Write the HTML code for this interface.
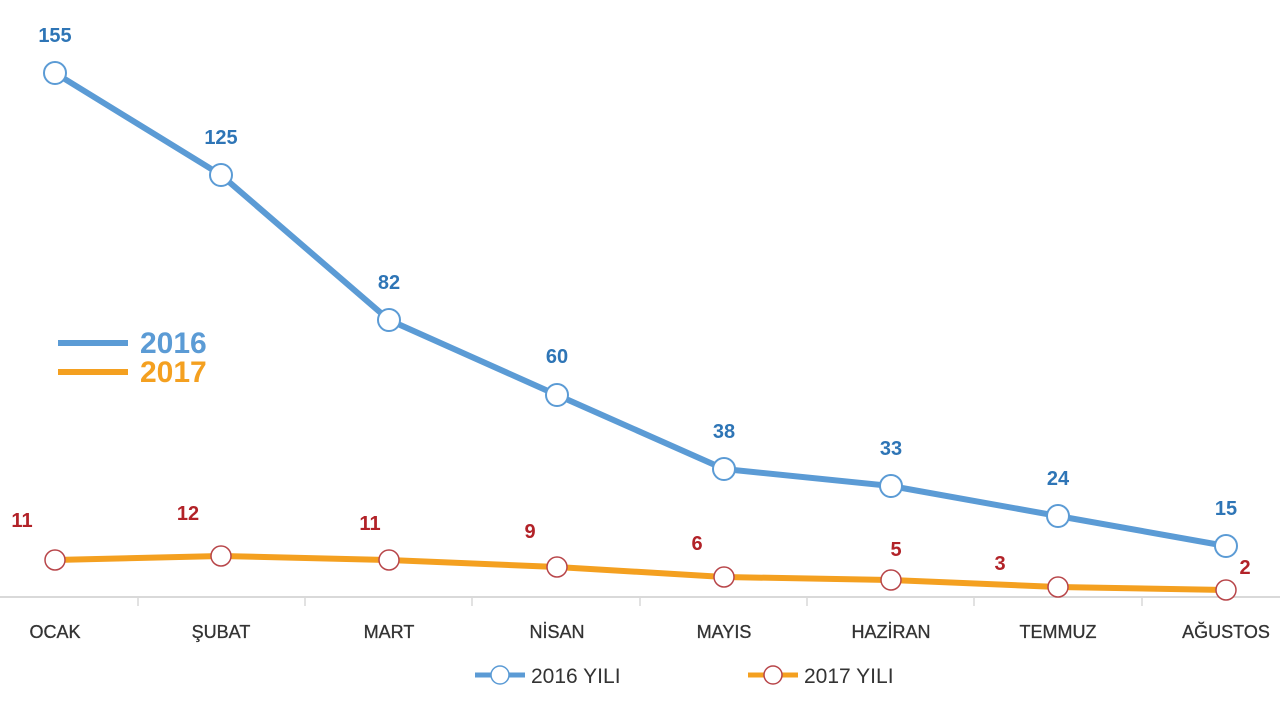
<!DOCTYPE html>
<html><head><meta charset="utf-8"><style>
html,body{margin:0;padding:0;background:#fff;}
svg{display:block;font-family:"Liberation Sans",sans-serif;}
</style></head><body>
<svg width="1280" height="720" viewBox="0 0 1280 720">
<rect width="1280" height="720" fill="#fff"/>
<line x1="0" y1="597" x2="1280" y2="597" stroke="#d9d9d9" stroke-width="2"/>
<g stroke="#d9d9d9" stroke-width="1.5">
<line x1="138" y1="597" x2="138" y2="606"/><line x1="305" y1="597" x2="305" y2="606"/>
<line x1="472" y1="597" x2="472" y2="606"/><line x1="640" y1="597" x2="640" y2="606"/>
<line x1="807" y1="597" x2="807" y2="606"/><line x1="974" y1="597" x2="974" y2="606"/>
<line x1="1142" y1="597" x2="1142" y2="606"/>
</g>
<g font-size="18" fill="#333" text-anchor="middle" stroke="#333" stroke-width="0.3">
<text x="55" y="638">OCAK</text><text x="221" y="638">ŞUBAT</text><text x="389" y="638">MART</text>
<text x="557" y="638">NİSAN</text><text x="724" y="638">MAYIS</text><text x="891" y="638">HAZİRAN</text>
<text x="1058" y="638">TEMMUZ</text><text x="1226" y="638">AĞUSTOS</text>
</g>
<polyline points="55,73 221,175 389,320 557,395 724,469 891,486 1058,516 1226,546" fill="none" stroke="#5b9bd5" stroke-width="6" stroke-linejoin="round"/>
<polyline points="55,560 221,556 389,560 557,567 724,577 891,580 1058,587 1226,590" fill="none" stroke="#f4a020" stroke-width="6" stroke-linejoin="round"/>
<g fill="#fff" stroke="#5b9bd5" stroke-width="2">
<circle cx="55" cy="73" r="11"/><circle cx="221" cy="175" r="11"/><circle cx="389" cy="320" r="11"/><circle cx="557" cy="395" r="11"/>
<circle cx="724" cy="469" r="11"/><circle cx="891" cy="486" r="11"/><circle cx="1058" cy="516" r="11"/><circle cx="1226" cy="546" r="11"/>
</g>
<g fill="#fff" stroke="#b8464a" stroke-width="1.5">
<circle cx="55" cy="560" r="10"/><circle cx="221" cy="556" r="10"/><circle cx="389" cy="560" r="10"/><circle cx="557" cy="567" r="10"/>
<circle cx="724" cy="577" r="10"/><circle cx="891" cy="580" r="10"/><circle cx="1058" cy="587" r="10"/><circle cx="1226" cy="590" r="10"/>
</g>
<g font-size="20" font-weight="bold" fill="#2e75b6" text-anchor="middle">
<text x="55" y="42">155</text><text x="221" y="144">125</text><text x="389" y="289">82</text><text x="557" y="363">60</text>
<text x="724" y="438">38</text><text x="891" y="455">33</text><text x="1058" y="485">24</text><text x="1226" y="515">15</text>
</g>
<g font-size="20" font-weight="bold" fill="#b22228" text-anchor="middle">
<text x="22" y="527">11</text><text x="188" y="520">12</text><text x="370" y="530">11</text><text x="530" y="538">9</text>
<text x="697" y="550">6</text><text x="896" y="556">5</text><text x="1000" y="570">3</text><text x="1245" y="574">2</text>
</g>
<line x1="58" y1="343" x2="128" y2="343" stroke="#5b9bd5" stroke-width="6"/>
<line x1="58" y1="372" x2="128" y2="372" stroke="#f4a020" stroke-width="6"/>
<text x="140" y="353" font-size="30" font-weight="bold" fill="#5b9bd5">2016</text>
<text x="140" y="382" font-size="30" font-weight="bold" fill="#f4a020">2017</text>
<line x1="475" y1="675" x2="525" y2="675" stroke="#5b9bd5" stroke-width="5"/>
<circle cx="500" cy="675" r="9" fill="#fff" stroke="#5b9bd5" stroke-width="1.5"/>
<text x="531" y="683" font-size="21" fill="#333">2016 YILI</text>
<line x1="748" y1="675" x2="798" y2="675" stroke="#f4a020" stroke-width="5"/>
<circle cx="773" cy="675" r="9" fill="#fff" stroke="#b8464a" stroke-width="1.5"/>
<text x="804" y="683" font-size="21" fill="#333">2017 YILI</text>
</svg>
</body></html>
